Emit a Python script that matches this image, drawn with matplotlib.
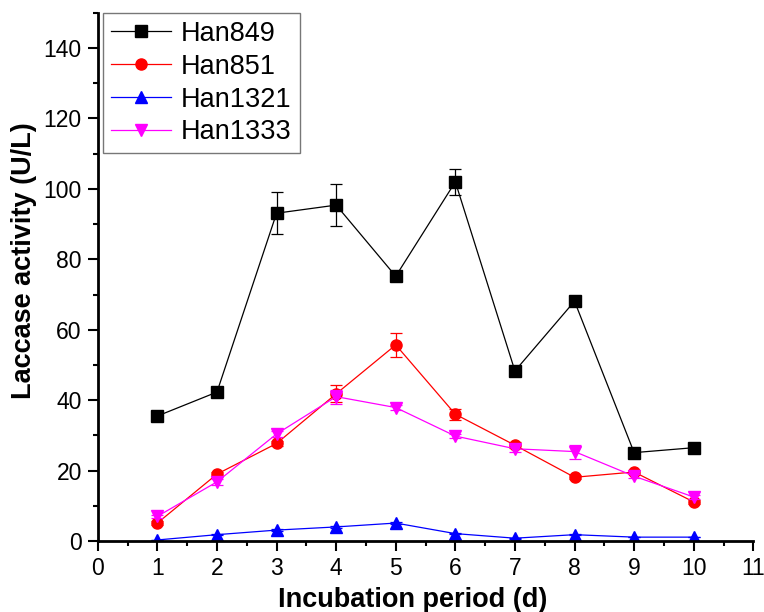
import matplotlib
matplotlib.use("Agg")
import matplotlib.pyplot as plt
from matplotlib.ticker import MultipleLocator

plt.rcParams['font.family'] = ['Liberation Sans', 'DejaVu Sans']

days = [1, 2, 3, 4, 5, 6, 7, 8, 9, 10]

han849 = [35.5, 42.3, 93.1, 95.4, 75.2, 102.0, 48.3, 68.1, 25.1, 26.5]
han849_err = [1.0, 0.8, 6.0, 6.0, 0.8, 3.6, 0.8, 0.8, 0.8, 0.8]

han851 = [5.1, 19.0, 27.7, 41.8, 55.7, 36.0, 27.2, 18.1, 19.6, 11.1]
han851_err = [0.5, 0.6, 0.8, 2.4, 3.5, 1.5, 0.8, 0.6, 0.6, 0.6]

han1321 = [0.3, 1.8, 3.1, 4.0, 5.1, 2.1, 0.8, 1.8, 1.1, 1.1]
han1321_err = [0.1, 0.2, 0.2, 0.2, 0.3, 0.2, 0.1, 0.2, 0.1, 0.1]

han1333 = [7.0, 16.8, 30.4, 41.0, 37.9, 29.8, 26.2, 25.4, 18.4, 12.5]
han1333_err = [0.5, 0.8, 0.8, 2.0, 0.6, 0.6, 1.0, 2.0, 0.6, 0.5]

fig = plt.figure(figsize=(7.64, 6.12), dpi=100)
ax = fig.add_axes([0.128, 0.116, 0.858, 0.863])

series = [
    ("Han849", han849, han849_err, "black", "s"),
    ("Han851", han851, han851_err, "red", "o"),
    ("Han1321", han1321, han1321_err, "blue", "^"),
    ("Han1333", han1333, han1333_err, "magenta", "v"),
]
for name, vals, err, col, mk in series:
    ax.errorbar(days, vals, yerr=err, fmt="none", ecolor=col,
                elinewidth=0.9, capsize=4, capthick=0.9)
    ax.plot(days, vals, color=col, marker=mk, markersize=8,
            linewidth=0.9, label=name)

ax.set_xlim(0, 11)
ax.set_ylim(0, 150)
ax.xaxis.set_major_locator(MultipleLocator(1))
ax.xaxis.set_minor_locator(MultipleLocator(0.5))
ax.yaxis.set_minor_locator(MultipleLocator(10))
ax.set_yticks([0, 20, 40, 60, 80, 100, 120, 140])

for s in ["top", "right"]:
    ax.spines[s].set_visible(False)
for s in ["left", "bottom"]:
    ax.spines[s].set_linewidth(2)

ax.tick_params(which="major", direction="out", length=7.5, width=1.5,
               labelsize=16.5, pad=4)
ax.tick_params(which="minor", direction="out", length=3.5, width=1.5)

ax.set_xlabel("Incubation period (d)", fontsize=19.5, fontweight="bold")
ax.xaxis.set_label_coords(0.48, -0.087)
ax.set_ylabel("Laccase activity (U/L)", fontsize=19.5, fontweight="bold")
ax.yaxis.set_label_coords(-0.092, 0.53)

leg = ax.legend(loc="upper left", bbox_to_anchor=(0.008, 1.0), fontsize=19.5,
                frameon=True, fancybox=False, edgecolor="#555555",
                handlelength=2.2, borderpad=0.3, labelspacing=0.25,
                handletextpad=0.37, borderaxespad=0.0)
leg.get_frame().set_linewidth(1.0)

fig.savefig("out.png", dpi=100)
